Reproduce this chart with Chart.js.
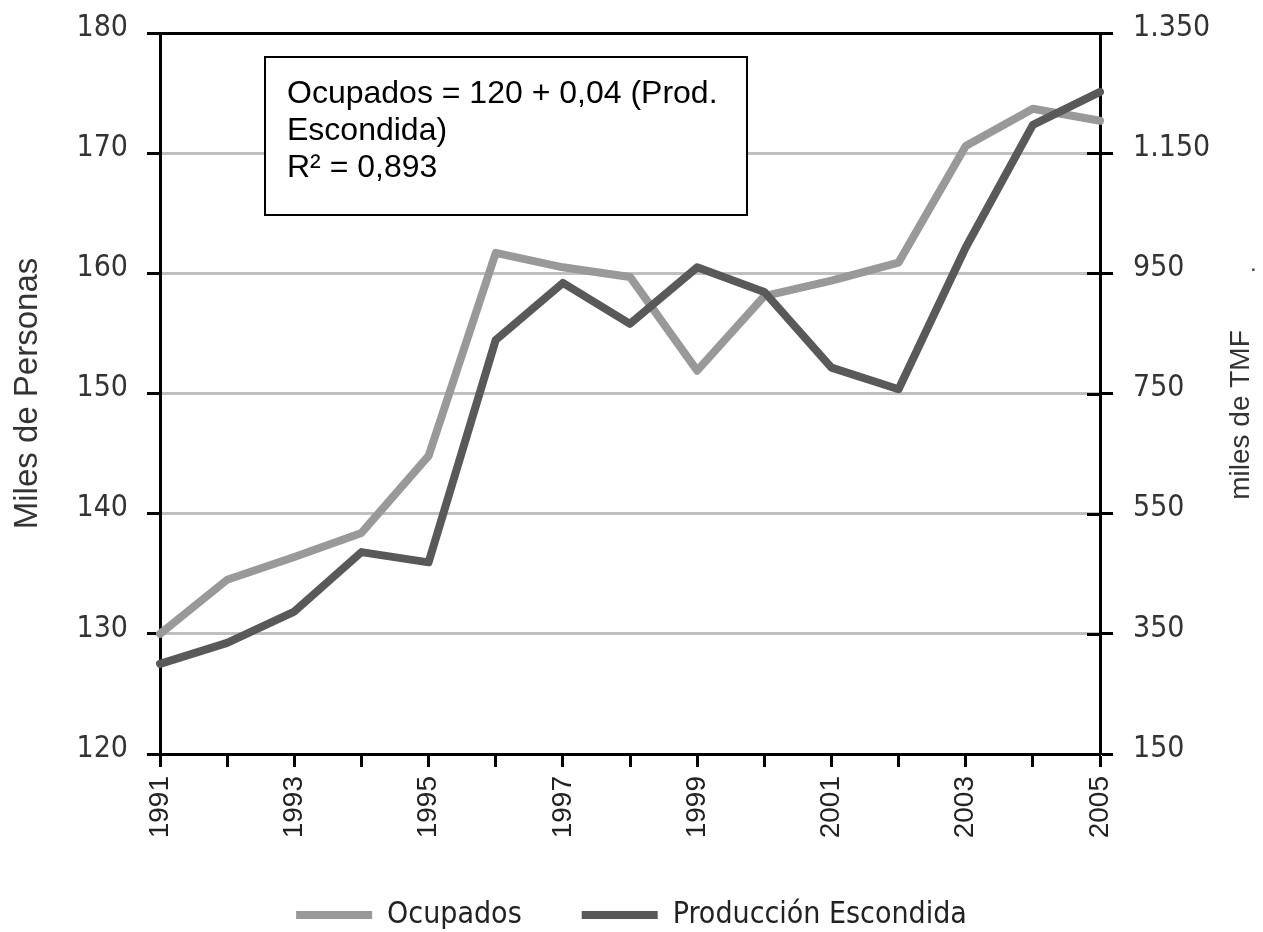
<!DOCTYPE html>
<html><head><meta charset="utf-8">
<script src="https://cdn.jsdelivr.net/npm/chart.js@4/dist/chart.umd.min.js"></script>
<style>html,body{margin:0;padding:0;background:#fff}#wrap{width:1263px;height:932px;position:relative}</style>
</head><body><div id="wrap"><canvas id="c" width="1263" height="932"></canvas></div>
<script>
const years = ['1991','1992','1993','1994','1995','1996','1997','1998','1999','2000','2001','2002','2003','2004','2005'];
const ocupados = [130.0, 134.5, 136.4, 138.4, 144.8, 161.7, 160.5, 159.7, 151.9, 158.1, 159.4, 160.9, 170.6, 173.7, 172.7];
const produccion = [300, 335, 387, 486, 469, 839, 934, 866, 960, 919, 793, 757, 993, 1197, 1252];
const leftAxis = {min: 120, max: 180, step: 10, title: 'Miles de Personas'};
const rightAxis = {min: 150, max: 1350, step: 200, title: 'miles de TMF'};
const seriesNames = ['Ocupados', 'Producción Escondida'];
const eqLines = ['Ocupados = 120 + 0,04 (Prod.', 'Escondida)', 'R\u00B2 = 0,893'];

const NARROW = "'DejaVu Sans Condensed', 'Liberation Sans Narrow', 'Arial Narrow', sans-serif";
const SANS = "'Liberation Sans', Arial, sans-serif";

const fmtThousands = v => String(v).replace(/\B(?=(\d{3})+(?!\d))/g, '.');

const eqPlugin = {
  id: 'eqbox',
  afterDraw(chart) {
    const c = chart.ctx;
    c.save();
    c.fillStyle = '#fff';
    c.fillRect(265, 57, 482, 158);
    c.lineWidth = 2;
    c.strokeStyle = '#000';
    c.strokeRect(265, 57, 482, 158);
    c.fillStyle = '#000';
    c.font = "32px " + SANS;
    c.textBaseline = 'alphabetic';
    c.textAlign = 'left';
    eqLines.forEach((t, i) => c.fillText(t, 287, 103 + i * 37));
    // inner tick marks of the right axis
    const s = chart.scales.y1;
    const xr = chart.chartArea.right;
    c.strokeStyle = '#000';
    c.lineWidth = 3;
    s.ticks.forEach(t => {
      const y = Math.round(s.getPixelForValue(t.value)) + 0.5;
      c.beginPath(); c.moveTo(xr - 13, y); c.lineTo(xr, y); c.stroke();
    });
    // right axis title, reading bottom to top
    c.save();
    c.translate(1241, 415);
    c.rotate(-Math.PI / 2);
    c.fillStyle = '#333';
    c.font = "28px " + SANS;
    c.textAlign = 'center';
    c.textBaseline = 'middle';
    c.fillText(rightAxis.title, 0, 0);
    c.restore();
    // stray dot near the right title
    c.fillStyle = '#444';
    c.font = "24px " + SANS;
    c.textAlign = 'left';
    c.textBaseline = 'alphabetic';
    c.fillText('.', 1250, 271);
    c.restore();
  }
};

const noVPad = (w) => s => { s.width = w; s.paddingTop = 0; s.paddingBottom = 0; };

new Chart(document.getElementById('c'), {
  type: 'line',
  data: {
    labels: years,
    datasets: [
      {label: seriesNames[0], data: ocupados, yAxisID: 'y', borderColor: '#999999', backgroundColor: '#999999',
       borderWidth: 8, pointRadius: 0, tension: 0, borderCapStyle: 'round', borderJoinStyle: 'round', order: 1},
      {label: seriesNames[1], data: produccion, yAxisID: 'y1', borderColor: '#595959', backgroundColor: '#595959',
       borderWidth: 8, pointRadius: 0, tension: 0, borderCapStyle: 'round', borderJoinStyle: 'round', order: 0}
    ]
  },
  options: {
    responsive: false,
    animation: false,
    devicePixelRatio: 1,
    layout: {padding: {top: 33, left: 0, right: 0, bottom: 0}},
    plugins: {
      tooltip: {enabled: false},
      legend: {
        position: 'bottom',
        maxHeight: 92,
        labels: {
          usePointStyle: true, pointStyle: 'line', pointStyleWidth: 76,
          font: {family: NARROW, size: 30}, color: '#222', padding: 60,
          sort: (a, b) => a.datasetIndex - b.datasetIndex
        }
      }
    },
    scales: {
      x: {
        type: 'category', offset: false,
        border: {color: '#000', width: 3},
        grid: {display: true, drawOnChartArea: false, tickLength: 13, tickColor: '#000', tickWidth: 3, color: '#000'},
        ticks: {
          autoSkip: false, maxRotation: 90, minRotation: 90, padding: 9,
          font: {family: SANS, size: 28}, color: '#222',
          callback: function (v, i) { return i % 2 === 0 ? this.getLabelForValue(v) : ''; }
        },
        afterFit: s => { s.height = 86; }
      },
      y: {
        position: 'left', min: leftAxis.min, max: leftAxis.max,
        border: {color: '#000', width: 3},
        grid: {
          color: ctx => (ctx.tick && (ctx.tick.value === leftAxis.max || ctx.tick.value === leftAxis.min)) ? '#000' : '#c0c0c0',
          lineWidth: 3, tickLength: 13, tickColor: '#000', tickWidth: 3
        },
        ticks: {stepSize: leftAxis.step, padding: 19, labelOffset: -5, font: {family: NARROW, size: 30}, color: '#333'},
        title: {display: true, text: leftAxis.title, font: {family: SANS, size: 33}, color: '#333', padding: {top: 8, bottom: 0}},
        afterFit: noVPad(160)
      },
      y1: {
        position: 'right', min: rightAxis.min, max: rightAxis.max,
        border: {color: '#000', width: 3},
        grid: {drawOnChartArea: false, tickLength: 13, tickColor: '#000', tickWidth: 3},
        ticks: {stepSize: rightAxis.step, padding: 20, labelOffset: -5, font: {family: NARROW, size: 30}, color: '#333',
                callback: v => fmtThousands(v)},
        title: {display: false},
        afterFit: noVPad(163)
      }
    }
  },
  plugins: [eqPlugin]
});
</script>
</body></html>
